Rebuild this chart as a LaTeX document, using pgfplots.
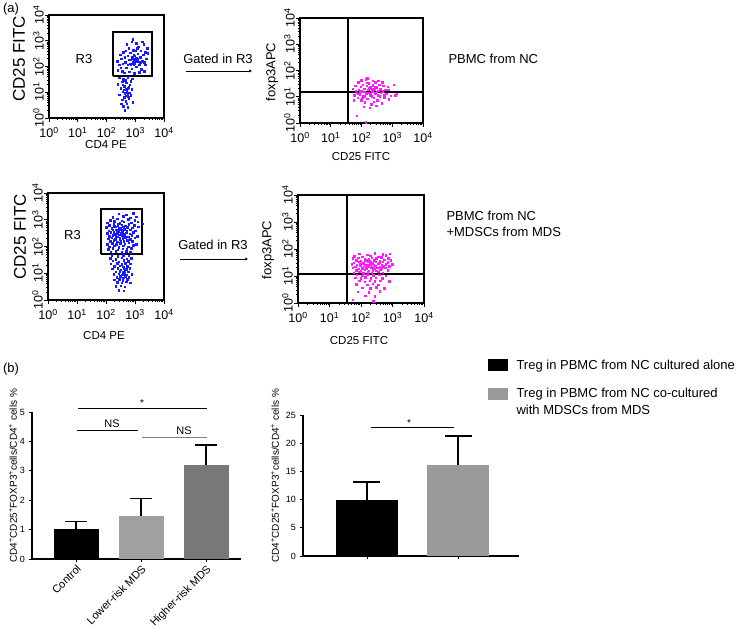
\documentclass[border=0pt]{standalone}
\usepackage{fontspec}
\setmainfont{Liberation Sans}
\usepackage{pgfplots}
\pgfplotsset{compat=1.18}
\usetikzlibrary{arrows.meta}
\newcommand{\fs}[1]{\fontsize{#1}{#1}\selectfont}
\definecolor{dotblue}{HTML}{1A1AFF}
\definecolor{dotmag}{HTML}{FF1AFF}
\definecolor{lgray}{HTML}{A0A0A0}
\definecolor{dgray}{HTML}{787878}
\definecolor{mgray}{HTML}{9A9A9A}
\pgfplotsset{
 flow/.style={
  scale only axis, anchor=south west,
  xmin=0,xmax=4,ymin=0,ymax=4,
  xtick={0,1,2,3,4}, ytick={0,1,2,3,4},
  xticklabels={10\textsuperscript{0},10\textsuperscript{1},10\textsuperscript{2},10\textsuperscript{3},10\textsuperscript{4}},
  yticklabels={10\textsuperscript{0},10\textsuperscript{1},10\textsuperscript{2},10\textsuperscript{3},10\textsuperscript{4}},
  minor xtick={0.301,0.477,0.602,0.699,0.778,0.845,0.903,0.954,1.301,1.477,1.602,1.699,1.778,1.845,1.903,1.954,2.301,2.477,2.602,2.699,2.778,2.845,2.903,2.954,3.301,3.477,3.602,3.699,3.778,3.845,3.903,3.954},
  minor ytick={0.301,0.477,0.602,0.699,0.778,0.845,0.903,0.954,1.301,1.477,1.602,1.699,1.778,1.845,1.903,1.954,2.301,2.477,2.602,2.699,2.778,2.845,2.903,2.954,3.301,3.477,3.602,3.699,3.778,3.845,3.903,3.954},
  tick align=outside, tick pos=left,
  major tick length=4pt, minor tick length=2.2pt,
  tick style={black, line width=0.8pt},
  axis line style={line width=1.1pt},
  xticklabel style={font=\fs{12.5}, inner sep=1pt, yshift=-4pt},
  yticklabel style={font=\fs{12.5}, rotate=90, anchor=south, inner sep=1pt},
 },
 dots/.style={only marks, mark=square*, mark size=0.75pt, color=#1, mark options={line width=0pt, draw=#1, fill=#1}},
 bars/.style={scale only axis, anchor=south west, axis x line*=bottom, axis y line*=left,
  axis line style={line width=1.1pt}, tick align=outside, major tick length=3.5pt,
  tick style={line width=0.9pt, black}, ticklabel style={font=\fs{9}},
  /pgf/number format/assume math mode=true, clip=false},
 bar1/.style={ybar, bar width=45pt, bar shift=0pt, fill=#1, draw=none,
  error bars/.cd, y dir=plus, y explicit, error mark=none, error bar style={line width=1.4pt, black}},
 bar2/.style={ybar, bar width=62pt, bar shift=0pt, fill=#1, draw=none,
  error bars/.cd, y dir=plus, y explicit, error mark=none, error bar style={line width=1.4pt, black}},
}
\begin{document}
\begin{tikzpicture}
\path[use as bounding box] (0pt,0pt) rectangle (740pt,-628pt);

% ---------- Panel 1 ----------
\begin{axis}[flow, at={(49pt,-118pt)}, width=115pt, height=103pt]
\addplot[dots=dotblue] coordinates {
(2.45,2.05)(2.52,2.30)(2.40,1.85)(2.60,2.55)(2.66,2.15)(2.70,1.95)(2.75,2.40)(2.78,2.70)(2.82,2.10)(2.85,2.25)
(2.88,1.90)(2.90,2.35)(2.92,2.18)(2.95,2.05)(2.96,2.45)(2.98,2.28)(3.00,2.12)(3.02,2.60)(3.04,2.32)(3.05,1.98)
(3.08,2.20)(3.10,2.48)(3.12,2.75)(3.15,2.05)(3.18,2.35)(3.20,2.60)(3.22,1.88)(3.25,2.20)(3.28,2.45)(3.30,2.85)
(3.33,2.15)(3.36,2.55)(3.40,2.30)(3.42,2.70)(2.88,2.95)(2.92,3.05)(3.05,2.90)(2.72,2.85)(2.55,1.80)(2.62,1.75)
(2.80,1.78)(2.98,1.72)(3.15,1.76)(3.32,1.80)(2.48,2.45)(2.58,2.10)(2.68,2.60)(2.84,2.52)(2.94,2.62)(3.07,2.70)
(3.18,2.15)(3.26,2.95)(2.78,2.25)(2.86,2.05)(2.93,2.30)(3.00,2.40)(3.03,2.22)(2.90,2.10)(2.97,2.15)(3.10,2.30)
(2.75,2.05)(2.65,2.35)(3.35,2.05)(3.45,2.50)(2.50,1.95)(2.38,2.20)
(2.45,1.55)(2.60,1.50)(2.75,1.58)(2.90,1.52)(2.55,1.40)(2.70,1.35)(2.85,1.42)(2.40,1.30)(2.62,1.22)(2.78,1.18)
(2.68,1.10)(2.72,1.05)(2.58,1.00)(2.65,0.95)(2.75,0.92)(2.80,0.98)(2.70,0.85)(2.62,0.80)(2.78,0.75)(2.85,0.88)
(2.55,0.70)(2.68,0.65)(2.72,0.55)(2.60,0.45)(2.75,0.40)(2.65,0.30)(2.50,1.15)(2.45,0.90)(2.88,1.10)(2.92,0.60)
(2.82,1.28)(2.66,1.45)(2.52,0.55)(2.58,1.28)(2.74,1.15)(2.69,0.98)(2.63,1.08)(2.77,0.82)
};
\addplot[black, line width=1.8pt, line join=miter] coordinates {(2.215,1.64)(3.57,1.64)(3.57,3.33)(2.215,3.33)(2.215,1.64)};
\end{axis}

% ---------- Panel 2 ----------
\begin{axis}[flow, at={(300pt,-123pt)}, width=123pt, height=105pt]
\addplot[dots=dotmag] coordinates {
(1.72,1.30)(1.78,1.05)(1.80,1.40)(1.85,1.15)(1.88,0.95)(1.90,1.55)(1.92,1.25)(1.95,1.08)(1.98,1.38)(2.00,0.85)
(2.02,1.20)(2.05,1.45)(2.07,1.02)(2.10,1.30)(2.12,0.78)(2.14,1.65)(2.16,1.12)(2.18,1.40)(2.20,0.92)(2.22,1.25)
(2.25,1.50)(2.27,1.05)(2.30,1.35)(2.32,0.70)(2.35,1.18)(2.37,1.42)(2.40,0.95)(2.42,1.28)(2.45,1.55)(2.47,1.10)
(2.50,1.35)(2.52,0.85)(2.55,1.22)(2.58,1.45)(2.60,1.00)(2.63,1.30)(2.66,0.75)(2.70,1.20)(2.72,1.40)(2.75,0.95)
(2.78,1.25)(2.82,1.10)(2.86,1.38)(2.90,0.90)(2.96,1.02)(3.06,1.45)(3.15,1.10)(3.10,1.05)(1.85,0.27)(2.15,0.02)
(1.75,0.85)(2.08,0.60)(2.28,0.58)(2.48,0.65)(2.38,1.60)(2.20,1.70)(2.00,1.62)(2.56,1.60)(2.68,1.55)(1.82,1.22)
(2.24,1.15)(2.34,1.00)(2.44,1.12)(2.54,1.05)(2.64,1.15)(2.12,1.00)(2.04,0.95)(1.96,1.20)(2.26,1.32)(2.36,1.28)
(2.46,1.38)(2.62,1.28)(2.18,1.52)(2.40,0.80)(2.74,1.05)(2.88,1.25)(2.30,1.10)(2.50,1.18)(1.90,1.10)(2.10,1.18)
};
\addplot[black, line width=1.5pt] coordinates {(1.56,0)(1.56,4)};
\addplot[black, line width=1.5pt] coordinates {(0,1.18)(4,1.18)};
\end{axis}

% ---------- Panel 3 ----------
\begin{axis}[flow, at={(48pt,-300pt)}, width=116pt, height=107pt]
\addplot[dots=dotblue] coordinates {
(2.45,3.22)(2.70,3.18)(2.95,3.24)
(2.25,3.08)(2.60,3.12)(2.85,3.06)(3.05,3.11)
(2.15,2.98)(2.40,3.03)(2.55,2.96)(2.78,3.01)(3.00,2.97)
(2.05,2.88)(2.30,2.93)(2.48,2.86)(2.62,2.91)(2.88,2.87)(3.10,2.92)
(2.12,2.78)(2.28,2.82)(2.42,2.76)(2.55,2.81)(2.68,2.77)(2.80,2.83)(2.98,2.79)
(2.02,2.71)(2.20,2.67)(2.35,2.72)(2.47,2.68)(2.58,2.73)(2.65,2.66)(2.75,2.71)(2.92,2.69)(3.12,2.72)
(2.10,2.58)(2.25,2.62)(2.38,2.57)(2.50,2.63)(2.56,2.59)(2.63,2.61)(2.72,2.56)(2.85,2.62)(3.02,2.58)
(2.05,2.48)(2.18,2.52)(2.30,2.47)(2.42,2.53)(2.52,2.49)(2.60,2.46)(2.70,2.51)(2.82,2.47)(2.95,2.52)
(2.12,2.38)(2.25,2.42)(2.35,2.37)(2.45,2.43)(2.55,2.39)(2.66,2.41)(2.78,2.36)(2.90,2.42)(3.08,2.38)
(2.08,2.28)(2.20,2.32)(2.32,2.27)(2.48,2.31)(2.58,2.29)(2.68,2.33)(2.85,2.27)(3.00,2.31)
(2.15,2.18)(2.28,2.22)(2.40,2.17)(2.52,2.21)(2.62,2.19)(2.75,2.23)(2.92,2.18)
(2.05,2.08)(2.22,2.12)(2.36,2.07)(2.50,2.11)(2.65,2.09)(2.80,2.13)(3.05,2.07)
(2.12,1.98)(2.30,2.02)(2.45,1.97)(2.60,2.01)(2.78,1.99)(2.95,2.03)
(2.08,1.88)(2.25,1.92)(2.42,1.87)(2.58,1.91)(2.72,1.89)(2.88,1.93)
(2.18,1.79)(2.35,1.82)(2.55,1.77)(2.70,1.81)(2.85,1.78)
(2.40,2.60)(2.45,2.55)(2.38,2.48)(2.50,2.70)(2.44,2.66)(2.53,2.45)(2.36,2.62)(2.28,2.55)(2.33,2.45)(2.58,2.55)
(2.62,2.70)(2.40,2.35)(2.48,2.25)(2.55,2.80)(2.30,2.75)(2.42,2.85)(2.60,2.38)
(2.20,1.66)(2.42,1.63)(2.60,1.67)(2.80,1.64)
(2.15,1.55)(2.35,1.52)(2.55,1.57)(2.72,1.54)(2.88,1.56)
(2.25,1.45)(2.45,1.42)(2.62,1.47)(2.78,1.44)
(2.18,1.35)(2.40,1.37)(2.55,1.33)(2.68,1.36)(2.85,1.34)
(2.30,1.25)(2.48,1.27)(2.60,1.23)(2.75,1.26)
(2.22,1.15)(2.42,1.17)(2.52,1.13)(2.62,1.16)(2.70,1.14)(2.82,1.17)
(2.35,1.05)(2.48,1.07)(2.58,1.03)(2.66,1.06)(2.78,1.04)
(2.28,0.95)(2.45,0.97)(2.55,0.93)(2.63,0.96)(2.72,0.94)(2.90,0.96)
(2.38,0.85)(2.50,0.87)(2.60,0.83)(2.68,0.86)(2.80,0.84)
(2.30,0.75)(2.46,0.77)(2.58,0.73)(2.75,0.76)
(2.40,0.65)(2.55,0.63)(2.70,0.67)(2.85,0.64)
(2.35,0.50)(2.52,0.52)(2.65,0.48)
(2.45,0.35)(2.62,0.33)
(3.28,2.85)
};
\addplot[black, line width=1.8pt, line join=miter] coordinates {(1.83,1.72)(3.24,1.72)(3.24,3.40)(1.83,3.40)(1.83,1.72)};
\end{axis}

% ---------- Panel 4 ----------
\begin{axis}[flow, at={(298pt,-303pt)}, width=126pt, height=108pt]
\addplot[dots=dotmag] coordinates {
(1.95,1.82)(2.20,1.78)(2.45,1.83)(2.70,1.79)(2.92,1.81)
(1.80,1.73)(2.05,1.70)(2.30,1.74)(2.55,1.71)(2.80,1.75)
(1.75,1.64)(1.92,1.67)(2.12,1.63)(2.35,1.66)(2.50,1.64)(2.65,1.68)(2.88,1.65)
(1.85,1.58)(2.00,1.55)(2.18,1.59)(2.28,1.56)(2.42,1.58)(2.60,1.55)(2.75,1.59)(2.95,1.57)
(1.78,1.49)(1.95,1.52)(2.08,1.48)(2.22,1.51)(2.38,1.49)(2.48,1.52)(2.58,1.48)(2.70,1.51)(2.85,1.50)
(1.72,1.43)(1.88,1.40)(2.02,1.44)(2.15,1.41)(2.30,1.43)(2.42,1.40)(2.55,1.44)(2.66,1.41)(2.80,1.43)(3.00,1.42)
(1.82,1.34)(1.98,1.37)(2.10,1.33)(2.25,1.36)(2.35,1.34)(2.46,1.37)(2.60,1.33)(2.72,1.36)(2.90,1.35)
(1.75,1.29)(1.92,1.26)(2.05,1.30)(2.18,1.27)(2.32,1.29)(2.44,1.26)(2.52,1.30)(2.65,1.27)(2.78,1.29)
(1.85,1.21)(2.00,1.18)(2.12,1.22)(2.26,1.19)(2.38,1.21)(2.50,1.18)(2.62,1.22)(2.85,1.20)
(1.78,1.11)(1.95,1.14)(2.08,1.10)(2.22,1.13)(2.35,1.11)(2.55,1.14)(2.70,1.12)
(1.88,1.03)(2.05,1.00)(2.20,1.04)(2.40,1.01)(2.58,1.03)(2.80,1.00)
(1.82,0.93)(2.00,0.90)(2.15,0.94)(2.32,0.91)(2.48,0.93)(2.68,0.90)
(1.95,0.81)(2.12,0.78)(2.28,0.82)(2.45,0.79)(2.62,0.81)(2.90,0.80)
(1.85,0.69)(2.20,0.66)(2.38,0.70)(2.55,0.67)
(2.05,0.56)(2.30,0.53)(2.50,0.57)(2.75,0.54)
(1.90,0.41)(2.25,0.38)(2.60,0.42)
(2.15,0.26)(2.45,0.24)
(1.75,0.11)(2.40,0.05)
(2.10,1.46)(2.20,1.38)(2.30,1.52)(2.40,1.30)(2.05,1.25)(2.15,1.55)(2.35,1.45)(2.45,1.60)(2.25,1.62)(1.98,1.45)
};
\addplot[black, line width=1.5pt] coordinates {(1.56,0)(1.56,4)};
\addplot[black, line width=1.5pt] coordinates {(0,1.07)(4,1.07)};
\end{axis}

% ---------- Bar chart 1 ----------
\begin{axis}[bars, at={(32pt,-559pt)}, width=209pt, height=147pt,
  xmin=-0.677, xmax=2.538, ymin=0, ymax=5, ytick={0,1,2,3,4,5},
  xtick={0,1,2}, xticklabels={Control,Lower-risk MDS,Higher-risk MDS},
  xticklabel style={rotate=45, anchor=north east, font=\fs{11}, inner sep=1pt}]
\addplot[bar1=black] coordinates {(0,1.01) +- (0,0.26)};
\addplot[bar1=lgray] coordinates {(1,1.47) +- (0,0.59)};
\addplot[bar1=dgray] coordinates {(2,3.20) +- (0,0.68)};
\addplot[only marks, black, mark=-, mark size=11pt, mark options={line width=1.4pt}] coordinates {(0,1.27)(1,2.06)(2,3.88)};
\end{axis}

% ---------- Bar chart 2 ----------
\begin{axis}[bars, at={(303pt,-556pt)}, width=216pt, height=141pt,
  xmin=-0.703, xmax=1.670, ymin=0, ymax=25, ytick={0,5,10,15,20,25},
  xtick={0,1}, xticklabels={}]
\addplot[bar2=black] coordinates {(0,9.95) +- (0,3.2)};
\addplot[bar2=mgray] coordinates {(1,16.15) +- (0,5.1)};
\addplot[only marks, black, mark=-, mark size=13.5pt, mark options={line width=1.4pt}] coordinates {(0,13.15)(1,21.25)};
\end{axis}

% ---------- Annotations ----------
\begin{scope}[x=1pt,y=-1pt]
\node[font=\fs{13}] at (11,9) {(a)};
\node[font=\fs{13}] at (11,369) {(b)};
\node[font=\fs{17}, rotate=90] at (19,59) {CD25 FITC};
\node[font=\fs{11.5}] at (106,145) {CD4 PE};
\node[font=\fs{13}, rotate=90] at (272,72) {foxp3APC};
\node[font=\fs{11.5}] at (361,157) {CD25 FITC};
\node[font=\fs{17}, rotate=90] at (20,237) {CD25 FITC};
\node[font=\fs{11.5}] at (104,336) {CD4 PE};
\node[font=\fs{13}, rotate=90] at (268,250) {foxp3APC};
\node[font=\fs{11.5}] at (359,341) {CD25 FITC};
\node[font=\fs{13}] at (84,59) {R3};
\node[font=\fs{13}] at (72.5,235) {R3};
\node[font=\fs{13}] at (218,59) {Gated in R3};
\draw[line width=0.5pt, -{Latex[length=3pt,width=3pt]}] (186,71) -- (252,71);
\node[font=\fs{13}] at (213,245) {Gated in R3};
\draw[line width=0.5pt, -{Latex[length=3pt,width=3pt]}] (180,259) -- (248,259);
\node[font=\fs{13}, anchor=west] at (445,59) {PBMC from NC};
\node[font=\fs{13}, anchor=west] at (443,216) {PBMC from NC};
\node[font=\fs{13}, anchor=west] at (443,232) {+MDSCs from MDS};
\node[font=\fs{10}, rotate=90] at (13,476) {CD4\textsuperscript{+}CD25\textsuperscript{+}FOXP3\textsuperscript{+}cells/CD4\textsuperscript{+} cells \%};
\node[font=\fs{10}, rotate=90] at (275,476) {CD4\textsuperscript{+}CD25\textsuperscript{+}FOXP3\textsuperscript{+}cells/CD4\textsuperscript{+} cells \%};
\draw[line width=0.7pt] (78,408) -- (207,408);
\node[font=\fs{10}] at (142,403) {*};
\draw[line width=0.7pt] (77,430) -- (138,430);
\node[font=\fs{11}] at (112,424) {NS};
\draw[line width=0.6pt, gray] (142,437) -- (207,437);
\node[font=\fs{11}] at (184,431) {NS};
\draw[line width=0.7pt] (371,427) -- (454,427);
\node[font=\fs{10}] at (409,423) {*};
\fill[black] (488,359) rectangle (508,371);
\node[font=\fs{13}, anchor=west] at (513,366) {Treg in PBMC from NC cultured alone};
\fill[mgray] (488,388) rectangle (508,400);
\node[font=\fs{13}, anchor=west] at (513,394) {Treg in PBMC from NC co-cultured};
\node[font=\fs{13}, anchor=west] at (513,410) {with MDSCs from MDS};
\end{scope}
\end{tikzpicture}
\end{document}
